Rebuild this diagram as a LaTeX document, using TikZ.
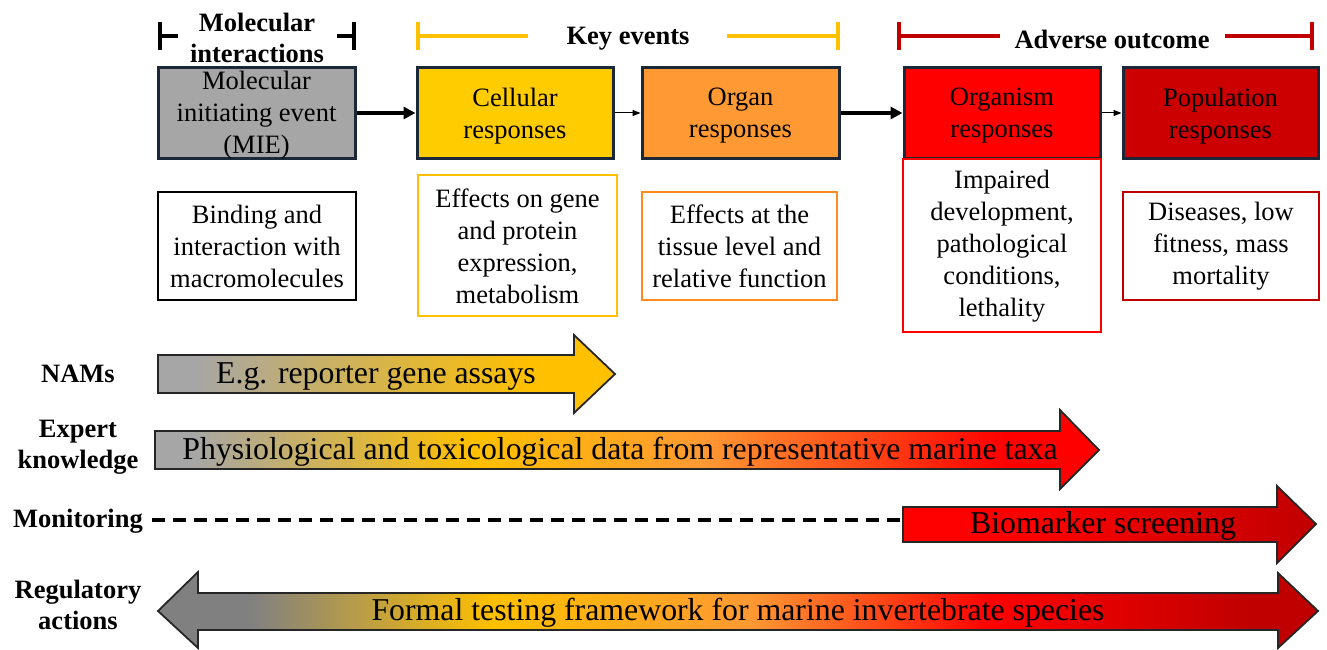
\documentclass[tikz,border=0pt]{standalone}
\usepackage{fontspec}
\setmainfont{Liberation Serif}
\usetikzlibrary{arrows.meta}
\definecolor{cgray}{HTML}{A6A6A6}
\definecolor{cdgray}{HTML}{808080}
\definecolor{cgold}{HTML}{FFC000}
\definecolor{ccell}{HTML}{FFCC00}
\definecolor{corg}{HTML}{FF9933}
\definecolor{corgline}{HTML}{FF8A1F}
\definecolor{cred}{HTML}{FF0000}
\definecolor{cdred}{HTML}{C00000}
\definecolor{cpop}{HTML}{CC0000}
\definecolor{cnavy}{HTML}{1B2838}
\pgfdeclarehorizontalshading{namsshade}{100bp}{color(0bp)=(cgray); color(25bp)=(cgray); color(29bp)=(cgray); color(66bp)=(cgold); color(100bp)=(cgold)}
\pgfdeclarehorizontalshading{expertshade}{100bp}{color(0bp)=(cgray); color(25bp)=(cgray); color(27bp)=(cgray); color(42bp)=(cgold); color(54bp)=(corg); color(70bp)=(cred); color(100bp)=(cred)}
\pgfdeclarehorizontalshading{bioshade}{100bp}{color(0bp)=(cred); color(25bp)=(cred); color(40bp)=(cred); color(75bp)=(cdred); color(100bp)=(cdred)}
\pgfdeclarehorizontalshading{regshade}{100bp}{color(0bp)=(cdgray); color(25bp)=(cdgray); color(29bp)=(cdgray); color(39.5bp)=(cgold); color(50.5bp)=(corg); color(61bp)=(cred); color(72bp)=(cdred); color(100bp)=(cdred)}
\begin{document}
\begin{tikzpicture}[x=1pt,y=-1pt,
  topbox/.style={draw=cnavy, line width=3pt, minimum height=90pt, inner sep=0pt},
  descbox/.style={line width=2.5pt, fill=white, inner sep=0pt, minimum height=108pt},
  txt/.style={font=\fontsize{26.5}{32}\selectfont, align=center, inner sep=0pt},
  btxt/.style={font=\fontsize{26.5}{31}\selectfont\bfseries, align=center, inner sep=0pt},
  arrtxt/.style={font=\fontsize{31.8}{36}\selectfont, inner sep=0pt},
  bracket/.style={line width=4pt},
  thickarr/.style={line width=3.5pt, -{Triangle[length=12pt,width=12pt]}},
  thinarr/.style={line width=1pt, -{Triangle[length=8pt,width=6pt]}},
  bigarrow/.style={draw=black!85, line width=1.8pt}
]
\useasboundingbox (0,0) rectangle (1327,650);

% brackets
\draw[bracket] (160,22) -- (160,50) (158,36) -- (178,36) (337,36) -- (355,36) (354,22) -- (354,50);
\node[btxt] (molint) at (257,38) {Molecular\\interactions};
\draw[bracket, cgold] (418,22) -- (418,50) (416,36) -- (528,36) (727,36) -- (840,36) (838,22) -- (838,50);
\node[btxt] (keyev) at (628,39) {Key events};
\draw[bracket, cdred] (899,22) -- (899,50) (897,36) -- (1000,36) (1225,36) -- (1314,36) (1312,22) -- (1312,50);
\node[btxt] (advout) at (1112,39) {Adverse outcome};

% top boxes
\node[topbox, fill=cgray, minimum width=197pt] (mie) at (256.5,113) {};
\node[txt] at (256.5,115) {Molecular\\initiating event\\(MIE)};
\node[topbox, fill=ccell, minimum width=196pt] (cell) at (515,113) {};
\node[txt] at (515,116) {Cellular\\responses};
\node[topbox, fill=corg, minimum width=197pt] (organ) at (740.5,113) {};
\node[txt] at (740.5,116) {Organ\\responses};
\node[topbox, fill=cred, minimum width=196pt] (organism) at (1002,113) {};
\node[txt] at (1002,116) {Organism\\responses};
\node[topbox, fill=cpop, minimum width=195pt] (pop) at (1220.5,113) {};
\node[txt] at (1220.5,116) {Population\\responses};

\draw[thickarr] (mie.east) -- (cell.west);
\draw[thinarr] (cell.east) -- (organ.west);
\draw[thickarr] (organ.east) -- (organism.west);
\draw[thinarr] (organism.east) -- (pop.west);

% description boxes
\node[descbox, draw=black, minimum width=198pt] (bind) at (257,246) {};
\node[txt] at (257,246.5) {Binding and\\interaction with\\macromolecules};
\node[descbox, draw=cgold, minimum width=199pt, minimum height=141pt] (gene) at (517.5,245.5) {};
\node[txt] at (517.5,246.5) {Effects on gene\\and protein\\expression,\\metabolism};
\node[descbox, draw=corgline, minimum width=195pt] (tissue) at (739.5,246) {};
\node[txt] at (739.5,246.5) {Effects at the\\tissue level and\\relative function};
\node[descbox, draw=cred, minimum width=198pt, minimum height=173pt] (impair) at (1002,245.5) {};
\node[txt] at (1002,246.5) {Impaired\\development,\\pathological\\conditions,\\lethality};
\node[descbox, draw=cdred, minimum width=196pt] (dis) at (1221,246) {};
\node[txt] at (1221,246.5) {Diseases, low\\fitness, mass\\mortality};

% left labels
\node[btxt] (nams) at (78,374) {NAMs};
\node[btxt] (expert) at (78,447) {Expert\\knowledge};
\node[btxt] (monit) at (78,521) {Monitoring};
\node[btxt] (regul) at (78,605) {Regulatory\\actions};

% big arrows
\shadedraw[shading=namsshade, bigarrow] (158,355) -- (574,355) -- (574,335) -- (615,374) -- (574,413) -- (574,393) -- (158,393) -- cycle;
\node[arrtxt] (namst) at (376,377) {E.g. reporter gene assays};

\shadedraw[shading=expertshade, bigarrow] (155,431) -- (1060,431) -- (1060,410) -- (1099,450) -- (1060,489) -- (1060,469) -- (155,469) -- cycle;
\node[arrtxt] (expt) at (620,452) {Physiological and toxicological data from representative marine taxa};

\coordinate (dashstart) at (152,520);
\coordinate (biostart) at (903,520);
\draw[line width=3.5pt, dash pattern=on 13pt off 8pt] (dashstart) -- (biostart);
\shadedraw[shading=bioshade, bigarrow] (903,507) -- (1277,507) -- (1277,486) -- (1316,524) -- (1277,563) -- (1277,542) -- (903,542) -- cycle;
\node[arrtxt] (biot) at (1103,526) {Biomarker screening};

\shadedraw[shading=regshade, bigarrow] (158,611) -- (198,572) -- (198,593) -- (1278,593) -- (1278,573) -- (1318,611) -- (1278,648) -- (1278,630) -- (198,630) -- (198,648) -- cycle;
\node[arrtxt] (regt) at (738,613) {Formal testing framework for marine invertebrate species};
\end{tikzpicture}
\end{document}
